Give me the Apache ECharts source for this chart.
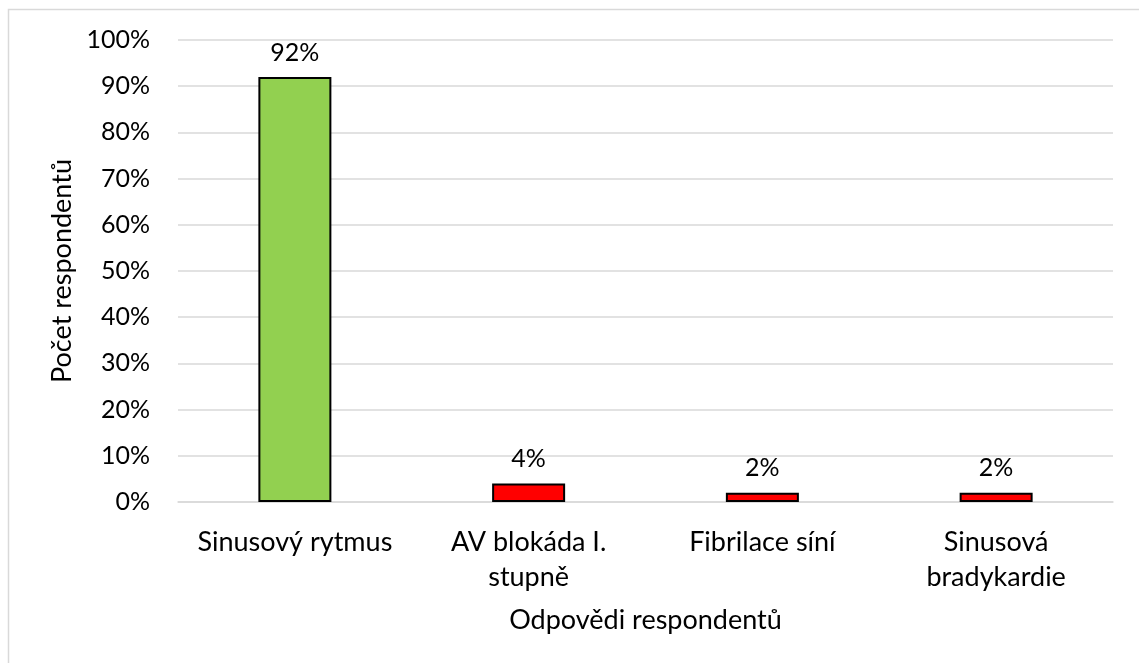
<!DOCTYPE html>
<html>
<head>
<meta charset="utf-8">
<script src="https://cdn.jsdelivr.net/npm/echarts@6/dist/echarts.min.js"></script>
<style>
  html, body { margin: 0; padding: 0; background: #fff; }
  #chart { width: 1139px; height: 663px; }
</style>
</head>
<body>
<div id="chart"></div>
<script>
// data
var categories = ["Sinusový rytmus", "AV blokáda I.\nstupně", "Fibrilace síní", "Sinusová\nbradykardie"];
var values = [92, 4, 2, 2];
var barColors = ["#92D050", "#FF0000", "#FF0000", "#FF0000"];
var yTicks = [0, 10, 20, 30, 40, 50, 60, 70, 80, 90, 100];

var font = "Lato, 'Open Sans', sans-serif";
var myChart = echarts.init(document.getElementById("chart"));

var option = {
  animation: false,
  graphic: [
    {
      type: "rect",
      shape: { x: 8.5, y: 9.5, width: 1140, height: 660 },
      style: { fill: "none", stroke: "#d9d9d9", lineWidth: 1.5 },
      silent: true
    }
  ],
  grid: {
    left: 178,
    right: 26,
    top: 40,
    bottom: 161
  },
  xAxis: {
    type: "category",
    data: categories,
    name: "Odpovědi respondentů",
    nameLocation: "middle",
    nameGap: 105,
    nameTextStyle: { color: "#000", fontSize: 27, fontFamily: font },
    axisTick: { show: false },
    axisLine: { lineStyle: { color: "#d9d9d9", width: 1.5 } },
    axisLabel: {
      color: "#000",
      fontSize: 27,
      fontFamily: font,
      margin: 23,
      lineHeight: 35,
      interval: 0
    }
  },
  yAxis: {
    type: "value",
    min: 0,
    max: 100,
    interval: 10,
    name: "Počet respondentů",
    nameLocation: "middle",
    nameGap: 102,
    nameTextStyle: { color: "#000", fontSize: 27, fontFamily: font },
    axisLine: { show: false },
    axisTick: { show: false },
    splitLine: { lineStyle: { color: "#d9d9d9", width: 1.5 } },
    axisLabel: {
      color: "#000",
      fontSize: 25,
      fontFamily: font,
      margin: 28,
      formatter: function (v) {
        return yTicks.indexOf(v) >= 0 ? v + "%" : "";
      }
    }
  },
  series: [
    {
      type: "bar",
      barWidth: 73,
      data: values.map(function (v, i) {
        return {
          value: v,
          itemStyle: { color: barColors[i], borderColor: "#000", borderWidth: 2 }
        };
      }),
      label: {
        show: true,
        position: "top",
        distance: 12,
        color: "#000",
        fontSize: 25,
        fontFamily: font,
        formatter: "{c}%"
      }
    }
  ]
};

myChart.setOption(option);
</script>
</body>
</html>
